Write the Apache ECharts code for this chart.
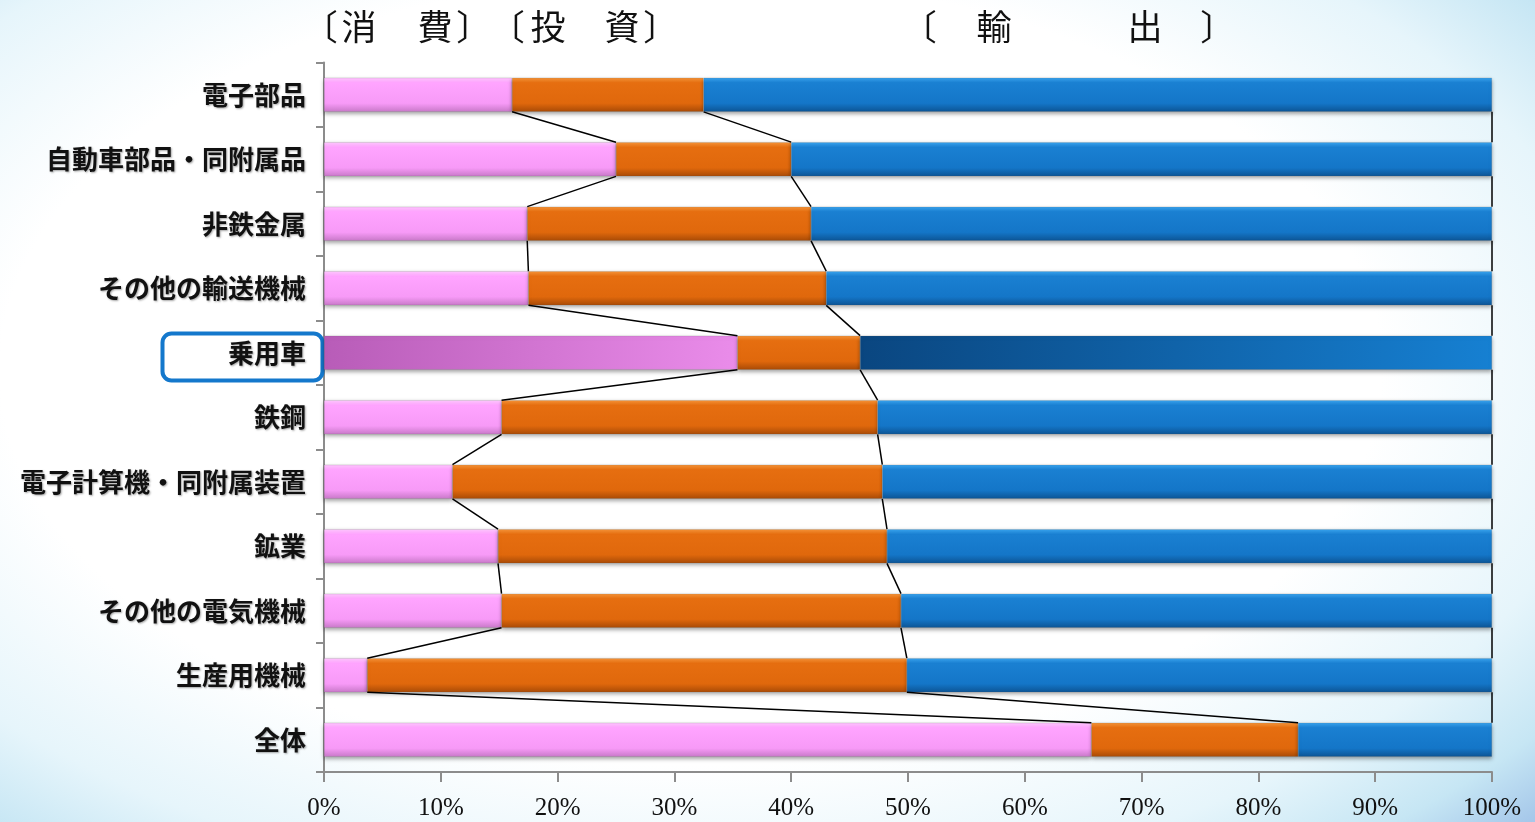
<!DOCTYPE html>
<html><head><meta charset="utf-8">
<script src="https://cdn.jsdelivr.net/npm/echarts@6/dist/echarts.min.js"></script>
<style>
html,body{margin:0;padding:0;width:1535px;height:822px;overflow:hidden;}
body{background:radial-gradient(ellipse 75% 80% at 45% 45%, #ffffff 60%, #e6f5fb 80%, #c6e6f4 92%, #a6c8ea 100%);}
#c{width:1535px;height:822px;}
</style></head>
<body><div id="c"></div>
<script>
const categories = ['電子部品','自動車部品・同附属品','非鉄金属','その他の輸送機械','乗用車','鉄鋼','電子計算機・同附属装置','鉱業','その他の電気機械','生産用機械','全体'];
const consumption = [16.1, 25.0, 17.4, 17.5, 35.4, 15.2, 11.0, 14.9, 15.2, 3.7, 65.7];
const investment  = [16.4, 15.0, 24.3, 25.5, 10.5, 32.2, 36.8, 33.3, 34.2, 46.2, 17.7];
const exportShare = [67.5, 60.0, 58.3, 57.0, 54.1, 52.6, 52.2, 51.8, 50.6, 50.1, 16.6];
const xTicks = ['0%','10%','20%','30%','40%','50%','60%','70%','80%','90%','100%'];
const highlight = '乗用車';
const seriesNames = ['消費','投資','輸出'];
const headerGlyphs = ['〔','消','費','〕','〔','投','資','〕','〔','輸','出','〕'];

const chart = echarts.init(document.getElementById('c'));
const hi = categories.indexOf(highlight);

function vgrad(c1, c2, c3, c4){
  return new echarts.graphic.LinearGradient(0,0,0,1,[
    {offset:0,color:c1},{offset:0.15,color:c2},{offset:0.75,color:c3},{offset:1,color:c4}]);
}
function hgrad(c1, c2){
  return new echarts.graphic.LinearGradient(0,0,1,0,[{offset:0,color:c1},{offset:1,color:c2}]);
}
const pinkStyle = vgrad('#ffc8ff','#ffa4ff','#f79af7','#c878c8');
const orangeStyle = vgrad('#f7963a','#e66e10','#e0680c','#a84a06');
const blueStyle = vgrad('#3aa6f0','#1a80d2','#1476c8','#0c5494');
const pinkHi = hgrad('#b85cb8','#ea8cea');
const blueHi = hgrad('#0a4680','#1680d2');

function mk(arr, hiColor){
  return arr.map((v,i)=>{
    if(i===hi && hiColor) return {value:v, itemStyle:{color:hiColor}};
    return v;
  });
}
const cum1 = consumption.slice();
const cum2 = consumption.map((v,i)=>v+investment[i]);
const cum3 = cum2.map((v,i)=>v+exportShare[i]);
const connData = [];
[cum1,cum2,cum3].forEach(cum=>{
  for(let i=0;i<categories.length-1;i++) connData.push([cum[i], i, cum[i+1], i+1]);
});
const BW = 0.53;
const barCommon = {type:'bar', stack:'s', barWidth: (BW*100)+'%',
  itemStyle:{shadowBlur:4, shadowOffsetY:2, shadowColor:'rgba(0,0,0,0.35)', borderColor:'rgba(90,90,90,0.35)', borderWidth:0.5},
  emphasis:{disabled:true}, animation:false};

// header glyph positions (layout only)
const FS = 35;
const glyphX = [328, 359, 435, 466, 515, 548, 622, 653, 927, 994, 1145, 1210];
const headerGraphics = headerGlyphs.map((g,i)=>{
  let left;
  if(g==='〔') left = glyphX[i] - 0.72*FS;
  else if(g==='〕') left = glyphX[i] - 0.28*FS;
  else left = glyphX[i] - 0.5*FS;
  return {type:'text', left:left, top:9, z:10, style:{text:g, font:FS+'px "Noto Sans CJK JP"', fill:'#111'}};
});

chart.setOption({
  animation:false,
  grid:{left:324, right:43, top:62.5, bottom:50, containLabel:false},
  xAxis:{type:'value', min:0, max:100, interval:10,
    axisLine:{show:true, lineStyle:{color:'#8c8c8c', width:2}},
    axisTick:{show:true, length:10, lineStyle:{color:'#8c8c8c', width:2}},
    splitLine:{show:false},
    axisLabel:{formatter:(v)=>xTicks[Math.round(v/10)], fontFamily:'Liberation Serif, DejaVu Serif, serif', fontSize:25, color:'#111', margin:24}},
  yAxis:{type:'category', inverse:true, data:categories,
    axisLine:{show:true, lineStyle:{color:'#8c8c8c', width:2}},
    axisTick:{show:true, length:8, lineStyle:{color:'#8c8c8c', width:2}},
    axisLabel:{fontFamily:'Noto Sans CJK JP', fontWeight:'bold', fontSize:26, color:'#111', margin:18,
      textShadowColor:'rgba(0,0,0,0.35)', textShadowBlur:2, textShadowOffsetX:1, textShadowOffsetY:1}},
  series:[
    Object.assign({}, barCommon, {name:seriesNames[0], data:mk(consumption,pinkHi), itemStyle:Object.assign({}, barCommon.itemStyle,{color:pinkStyle})}),
    Object.assign({}, barCommon, {name:seriesNames[1], data:mk(investment,null), itemStyle:Object.assign({}, barCommon.itemStyle,{color:orangeStyle})}),
    Object.assign({}, barCommon, {name:seriesNames[2], data:mk(exportShare,blueHi), itemStyle:Object.assign({}, barCommon.itemStyle,{color:blueStyle})}),
    {type:'custom', data:connData, z:5, silent:true, animation:false,
      encode:{x:[0,2], y:[1,3]},
      renderItem:function(params, api){
        const p1 = api.coord([api.value(0), api.value(1)]);
        const p2 = api.coord([api.value(2), api.value(3)]);
        const h = api.size([0,1])[1]*BW/2;
        return {type:'line', shape:{x1:p1[0], y1:p1[1]+h, x2:p2[0], y2:p2[1]-h},
          style:{stroke:'#000', lineWidth:1.5}};
      }}
  ],
  graphic:[
    {type:'rect', left:160, top:331, shape:{width:160, height:47, r:9}, z:1,
      style:{fill:'none', stroke:'#1478cc', lineWidth:4}}
  ].concat(headerGraphics)
});
</script>
</body></html>
